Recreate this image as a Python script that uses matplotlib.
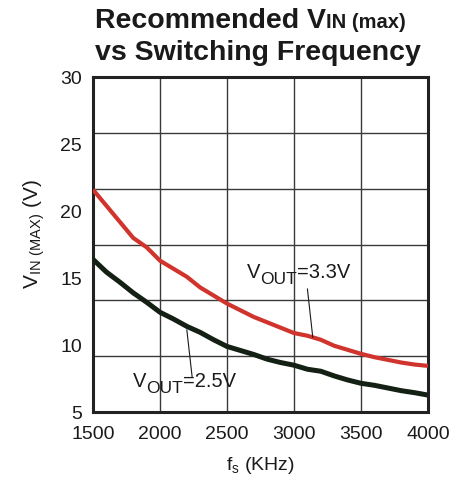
import numpy as np
import matplotlib
matplotlib.use("Agg")
import matplotlib.pyplot as plt
from matplotlib.transforms import IdentityTransform

plt.rcParams['font.family'] = ['Liberation Sans', 'DejaVu Sans']
plt.rcParams['mathtext.default'] = 'regular'

# 开关频率 (KHz) 与推荐最大输入电压 (V)
fs = [1500, 1600, 1700, 1800, 1900, 2000, 2100, 2200, 2300, 2400, 2500, 2600, 2700,
      2800, 2900, 3000, 3100, 3200, 3300, 3400, 3500, 3600, 3700, 3800, 3900, 4000]
vin_33 = [21.6, 20.4, 19.2, 18.0, 17.3, 16.3, 15.7, 15.1, 14.3, 13.7, 13.1, 12.6, 12.1,
          11.7, 11.3, 10.9, 10.7, 10.4, 9.95, 9.65, 9.35, 9.1, 8.9, 8.7, 8.55, 8.45]
vin_25 = [16.4, 15.45, 14.7, 13.9, 13.2, 12.45, 11.95, 11.4, 10.95, 10.4, 9.9, 9.6, 9.3,
          8.95, 8.7, 8.5, 8.2, 8.05, 7.7, 7.4, 7.15, 7.0, 6.8, 6.6, 6.45, 6.27]
x_ticks = [1500, 2000, 2500, 3000, 3500, 4000]
y_ticks = [5, 10, 15, 20, 25, 30]

fig = plt.figure(figsize=(4.56, 4.82), dpi=100)
ax = fig.add_axes([0.204, 0.145, 0.7346, 0.695])

ax.plot(fs, vin_33, color='#d0342c', linewidth=3.0, solid_capstyle='butt', zorder=3)
ax.plot(fs, vin_25, color='#142014', linewidth=3.6, solid_capstyle='butt', zorder=3)

ax.set_xlim(1500, 4000)
ax.set_ylim(5, 30)
ax.set_xticks(x_ticks)
ax.set_yticks(y_ticks)
# 横向网格线与刻度标签不对齐 (6 等分)
ax.set_yticks(np.linspace(5, 30, 7)[1:-1], minor=True)
ax.tick_params(axis='both', which='both', length=0, labelsize=14, colors='#1a1a1a')
ax.tick_params(axis='x', pad=10)
ax.tick_params(axis='y', pad=8)
ax.xaxis.grid(True, which='major', color='#3a3a3a', linewidth=1.0)
ax.yaxis.grid(True, which='minor', color='#3a3a3a', linewidth=1.0)
ax.yaxis.grid(False, which='major')
for sp in ax.spines.values():
    sp.set_linewidth(2.2)
    sp.set_color('#222222')

ax.set_xlabel(r'f$_{s}$ (KHz)', fontsize=14, labelpad=9, color='#1a1a1a')
ax.set_ylabel(r'V$_{IN\ (MAX)}$ (V)', fontsize=15, color='#1a1a1a')
ax.yaxis.set_label_coords(-0.137, 0.53)

renderer = fig.canvas.get_renderer()


def put_parts(x, y, parts, transform):
    # 逐段绘制文字 (支持下标/小字号)
    x0, y0 = transform.transform((x, y))
    for s, size, dy, weight in parts:
        t = fig.text(x0, y0 + dy, s, fontsize=size, fontweight=weight,
                     ha='left', va='baseline', color='#1a1a1a',
                     transform=IdentityTransform())
        x0 = t.get_window_extent(renderer).x1


# 标题
put_parts(0.208, 0.942, [('Recommended V', 20.5, 0, 'bold'),
                         ('IN (max)', 14.5, 0, 'bold')], fig.transFigure)
put_parts(0.208, 0.876, [('vs Switching Frequency', 20.5, 0, 'bold')], fig.transFigure)

# 曲线标注
put_parts(2650, 15.0, [('V', 14.5, 0, 'normal'), ('OUT', 12.5, -6, 'normal'),
                       ('=3.3V', 14.5, 0, 'normal')], ax.transData)
put_parts(1800, 6.87, [('V', 14.5, 0, 'normal'), ('OUT', 12.5, -6, 'normal'),
                       ('=2.5V', 14.5, 0, 'normal')], ax.transData)

ax.annotate('', xy=(3140, np.interp(3140, fs, vin_33)), xytext=(3100, 14.2),
            arrowprops=dict(arrowstyle='-', color='#1a1a1a', linewidth=0.8,
                            shrinkA=0, shrinkB=0))
ax.annotate('', xy=(2200, np.interp(2200, fs, vin_25) - 0.25), xytext=(2240, 7.6),
            arrowprops=dict(arrowstyle='-', color='#1a1a1a', linewidth=0.8,
                            shrinkA=0, shrinkB=0))

fig.savefig('out.png', dpi=100)
